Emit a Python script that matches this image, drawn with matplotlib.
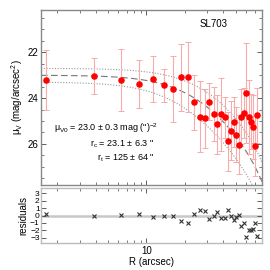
import numpy as np
import matplotlib
matplotlib.use("Agg")
import matplotlib.pyplot as plt
from matplotlib.ticker import LogLocator, NullFormatter, FixedLocator, MultipleLocator

plt.rcParams['font.family'] = ['Liberation Sans', 'DejaVu Sans']
plt.rcParams['mathtext.fontset'] = 'custom'
plt.rcParams['mathtext.rm'] = 'Liberation Sans'
plt.rcParams['mathtext.it'] = 'Liberation Sans'

# surface brightness profile of SL703
radius = [1.646, 3.87, 6.34, 8.71, 11.2, 13.65, 16.1, 18.6, 21.3, 23.4,
          26.1, 28.5, 30.9, 33.5, 35.9, 38.5, 41.2, 43.2, 45.5, 48.4,
          50.4, 53.3, 55.2, 57.9, 60.4, 62.9, 65.3, 67.6, 70.6, 73.2]
mu = [23.19, 23.03, 23.22, 23.39, 23.17, 23.44, 23.61, 23.10, 23.09, 24.19,
      24.81, 24.89, 24.15, 24.70, 25.15, 24.71, 24.84, 25.89, 25.42, 25.06,
      25.61, 26.03, 24.81, 24.65, 23.78, 24.83, 25.04, 25.26, 26.09, 24.76]
mu_err = [1.31, 0.80, 1.36, 1.04, 1.00, 0.73, 1.43, 1.46, 1.53, 1.20,
          1.56, 1.28, 0.80, 1.18, 1.30, 1.59, 0.90, 1.30, 1.30, 1.10,
          1.20, 1.30, 1.20, 1.10, 2.17, 1.60, 1.20, 1.40, 1.30, 1.20]
resid = [0.15, -0.10, 0.05, 0.15, -0.25, -0.05, 0.0, -0.70, -0.95, 0.15,
         0.75, 0.60, -0.45, 0.0, 0.45, -0.30, -0.30, 0.70, 0.0, -0.55,
         -0.20, 0.10, -1.45, -1.05, -2.85, -1.90, -1.90, -1.85, -1.05, -2.70]

# King fit parameters shown in the panel
mu0, mu0_err = 23.0, 0.3
r_c, r_c_err = 23.1, 6.3
r_t = 125.0


def king(r, m0, rc, rt):
    c = 1.0 / np.sqrt(1.0 + (rt / rc) ** 2)
    f = (1.0 / np.sqrt(1.0 + (r / rc) ** 2) - c) / (1.0 - c)
    return m0 - 5.0 * np.log10(f)


fig = plt.figure(figsize=(2.7, 2.7), dpi=100)
ax = fig.add_axes([41 / 270, 1 - 185 / 270, 221 / 270, 175 / 270])
axr = fig.add_axes([41 / 270, 1 - 243 / 270, 221 / 270, 55 / 270], sharex=ax)

rr = np.logspace(np.log10(1.5), np.log10(80), 300)
ax.plot(rr, king(rr, mu0, r_c, r_t), color='#777777', lw=0.8, ls=(0, (6, 3)))
ax.plot(rr, king(rr, mu0 - mu0_err, r_c + r_c_err, r_t), color='#999999', lw=0.8, ls=(0, (1, 1.5)))
ax.plot(rr, king(rr, mu0 + mu0_err, r_c - r_c_err, r_t), color='#999999', lw=0.8, ls=(0, (1, 1.5)))

ax.errorbar(radius, mu, yerr=mu_err, fmt='none', ecolor='#f7abab', elinewidth=0.8,
            capsize=2, capthick=0.7)
ax.plot(radius, mu, 'o', color='red', ms=3.7, mec='red')

ax.set_xscale('log')
ax.set_xlim(1.5, 80)
ax.set_ylim(27.8, 20.15)
ax.set_yticks([22, 24, 26])
ax.yaxis.set_minor_locator(MultipleLocator(0.5))
ax.set_ylabel(r'$\mu_V$ (mag/arcsec$^2$)', fontsize=7, labelpad=2)

ax.text(200 / 270, 1 - 24 / 270, 'SL703', transform=fig.transFigure,
        fontsize=7, va='center')
ax.text(54 / 270, 1 - 128 / 270,
        r'$\mu_{V0}$ = 23.0 $\pm$ 0.3 mag (")$^{-2}$',
        transform=fig.transFigure, fontsize=6.5, va='center')
ax.text(90 / 270, 1 - 144 / 270, r'r$_c$ = 23.1 $\pm$ 6.3 "',
        transform=fig.transFigure, fontsize=6.5, va='center')
ax.text(97 / 270, 1 - 158 / 270, r'r$_t$ = 125 $\pm$ 64 "',
        transform=fig.transFigure, fontsize=6.5, va='center')

axr.axhline(0, color='#c8c8c8', lw=1.8, zorder=0)
axr.plot(radius, resid, 'x', color='#333333', ms=3, mew=0.8)
axr.set_ylim(-3.7, 3.7)
axr.set_yticks([-3, -2, -1, 0, 1, 2, 3])
axr.set_ylabel('residuals', fontsize=7, labelpad=1)
axr.set_xlabel('R (arcsec)', fontsize=7, labelpad=1)

for a, col in ((ax, '#888888'), (axr, '#bbbbbb')):
    for s in a.spines.values():
        s.set_color(col)
        s.set_linewidth(1.0)
    a.tick_params(which='both', direction='in', top=True, right=True,
                  labelsize=7, colors='#444444', labelcolor='black', pad=2)
    a.tick_params(which='major', length=3.5, width=0.6)
    a.tick_params(which='minor', length=2, width=0.5)
    a.xaxis.set_major_locator(FixedLocator([10]))
    a.xaxis.set_minor_locator(LogLocator(base=10, subs=np.arange(2, 10)))
    a.xaxis.set_minor_formatter(NullFormatter())
axr.tick_params(axis='y', labelsize=6, pad=1)
axr.set_xticklabels(['10'])
plt.setp(ax.get_xticklabels(), visible=False)

fig.savefig('out.png', dpi=100)
